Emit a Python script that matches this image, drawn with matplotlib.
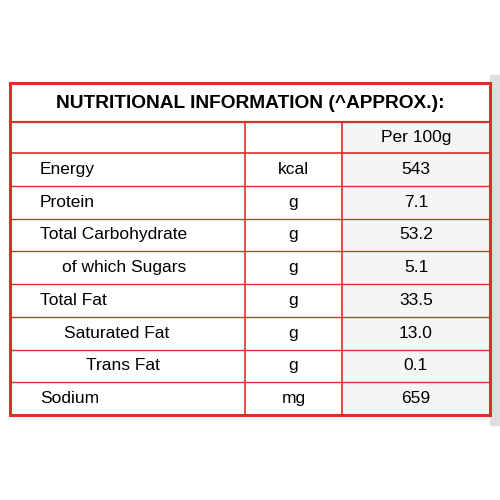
import matplotlib
matplotlib.use("Agg")
import matplotlib.pyplot as plt
from matplotlib.patches import Rectangle

title = "NUTRITIONAL INFORMATION (^APPROX.):"
header = "Per 100g"
nutrients = ["Energy", "Protein", "Total Carbohydrate", "of which Sugars",
             "Total Fat", "Saturated Fat", "Trans Fat", "Sodium"]
units = ["kcal", "g", "g", "g", "g", "g", "g", "mg"]
values = ["543", "7.1", "53.2", "5.1", "33.5", "13.0", "0.1", "659"]

fig = plt.figure(figsize=(5, 5), dpi=100)
ax = fig.add_axes([0, 0, 1, 1])
ax.set_xlim(0, 500); ax.set_ylim(500, 0); ax.axis("off")

red = "#d9302a"
L, R, T, B = 10, 490, 83, 415
c1, c2 = 245, 342
ytitle = 122
yhead = 153
rowh = (B - yhead) / len(nutrients)

ax.add_patch(Rectangle((c2, ytitle), R - c2, B - ytitle, color="#f5f5f5", zorder=0))
ax.add_patch(Rectangle((R, 75), 10, 350, color="#dedede", zorder=0))

ax.add_patch(Rectangle((L, T), R - L, B - T, fill=False, ec=red, lw=2.2, zorder=3))
ax.plot([L, R], [ytitle, ytitle], color=red, lw=1.6)
ax.plot([L, R], [yhead, yhead], color=red, lw=1.2)
for i in range(1, len(nutrients)):
    y = yhead + i * rowh
    ax.plot([L, R], [y, y], color=red, lw=1.0)
ax.plot([c1, c1], [ytitle, B], color=red, lw=1.2)
ax.plot([c2, c2], [ytitle, B], color=red, lw=1.2)

fam = "Liberation Sans"
ax.text((L + R) / 2, (T + ytitle) / 2 + 1, title, ha="center", va="center",
        fontsize=13.8, fontweight="bold", family=fam)
ax.text((c2 + R) / 2, (ytitle + yhead) / 2, header, ha="center", va="center",
        fontsize=12.5, family=fam)
xpos = {"of which Sugars": 62, "Saturated Fat": 64, "Trans Fat": 86}
for i, (n, u, v) in enumerate(zip(nutrients, units, values)):
    yc = yhead + (i + 0.5) * rowh
    ax.text(xpos.get(n, 40), yc, n, ha="left", va="center", fontsize=12.5, family=fam)
    ax.text((c1 + c2) / 2, yc, u, ha="center", va="center", fontsize=12.5, family=fam)
    ax.text((c2 + R) / 2, yc, v, ha="center", va="center", fontsize=12.5, family=fam)

fig.savefig("out.png", dpi=100)
